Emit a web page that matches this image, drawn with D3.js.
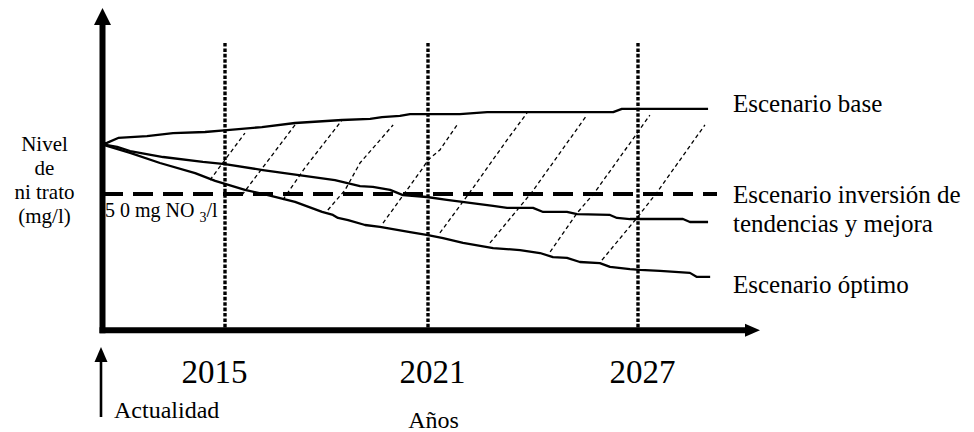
<!DOCTYPE html>
<html>
<head>
<meta charset="utf-8">
<script src="https://cdn.jsdelivr.net/npm/d3@7"></script>
<style>
  html, body { margin: 0; padding: 0; background: #fff; }
  svg { display: block; }
  text { font-family: "Liberation Serif", "Times New Roman", serif; fill: #000; }
</style>
</head>
<body>
<svg id="chart" width="974" height="432"></svg>
<script>
// ---- data (x in years, y in mg/l of nitrate) ----
const yearTicks = [2015, 2021, 2027];
const yearLabels = ["2015", "2021", "2027"];
const threshold = 50;

const baseYears = [2011.45, 2011.64, 2011.96, 2012.78, 2013.52, 2014.43, 2015.06, 2016.09, 2017.07, 2018.46, 2019.29, 2019.64, 2020.17, 2020.47, 2021.91, 2022.69, 2026.29, 2026.54, 2029.01];
const baseValues = [68.4, 68.8, 70.6, 71.3, 72.4, 72.8, 73.5, 74.6, 76.1, 77.2, 77.6, 78.3, 78.7, 79.4, 79.4, 80.1, 80.1, 81.3, 81.3];

const mejoraYears = [2011.45, 2011.93, 2012.30, 2013.24, 2014.37, 2015.00, 2016.12, 2017.13, 2018.25, 2018.99, 2019.37, 2019.88, 2020.26, 2020.97, 2021.54, 2022.20, 2022.86, 2023.26, 2024.00, 2024.29, 2024.97, 2025.26, 2026.20, 2026.40, 2026.77, 2028.29, 2028.49, 2029.01];
const mejoraValues = [68.4, 67.3, 65.8, 63.6, 61.8, 61.0, 58.8, 57.0, 55.1, 52.9, 52.6, 51.5, 49.6, 48.9, 47.8, 46.7, 45.6, 44.9, 44.9, 43.4, 43.4, 42.6, 42.3, 41.2, 40.8, 40.8, 39.7, 39.7];

const optimoYears = [2011.45, 2012.30, 2013.15, 2014.15, 2014.72, 2015.59, 2016.27, 2017.07, 2017.87, 2018.19, 2018.34, 2018.64, 2019.14, 2019.58, 2020.47, 2021.00, 2021.43, 2022.00, 2022.86, 2023.63, 2024.20, 2024.57, 2024.97, 2025.34, 2025.91, 2026.20, 2026.77, 2027.06, 2027.63, 2028.49, 2028.69, 2029.07];
const optimoValues = [68.4, 65.1, 61.4, 57.7, 54.8, 51.5, 49.6, 47.1, 43.4, 42.3, 41.2, 40.4, 38.6, 37.9, 36.0, 34.9, 33.8, 32.0, 30.1, 29.4, 28.3, 26.8, 26.5, 25.0, 24.6, 23.2, 22.4, 22.1, 21.7, 21.0, 19.5, 19.5];

// hatch lines between scenarios: [year, mg/l] pairs
const hatchLines = [
  [[2014.57, 55.1], [2015.59, 72.4]],
  [[2015.50, 49.6], [2017.07, 75.4]],
  [[2016.71, 47.8], [2017.36, 59.6], [2018.46, 77.2]],
  [[2018.04, 44.1], [2018.55, 51.5], [2018.99, 61.4], [2019.97, 75.4]],
  [[2019.67, 39.3], [2020.85, 59.6], [2021.00, 62.5], [2021.34, 66.2], [2021.83, 75.4]],
  [[2021.34, 35.7], [2022.20, 50.7], [2023.26, 69.9], [2023.83, 79.8]],
  [[2022.77, 32.0], [2023.97, 50.7], [2025.54, 79.0]],
  [[2024.49, 28.7], [2025.26, 43.0], [2025.77, 50.7], [2027.00, 72.8], [2027.34, 79.0]],
  [[2025.97, 25.7], [2026.97, 41.2], [2027.55, 50.7], [2028.92, 75.4]]
];

const yLabelLines = ["Nivel", "de", "ni trato", "(mg/l)"];
const seriesLabels = ["Escenario base", "Escenario inversión de", "tendencias y mejora", "Escenario óptimo"];

// ---- drawing ----
const svg = d3.select("#chart");
svg.append("rect").attr("width", 974).attr("height", 432).attr("fill", "#fff");

const x = d3.scaleLinear()
  .domain([2011.5, 2015, 2021, 2027, 2030.5])
  .range([102, 225, 428, 638, 760]);
const y = d3.scaleLinear().domain([0, 120]).range([330, 3.6]);

const line = d3.line().x(d => x(d[0])).y(d => y(d[1]));

// vertical dotted year lines
svg.append("g").selectAll("line").data(yearTicks).join("line")
  .attr("x1", d => x(d)).attr("x2", d => x(d))
  .attr("y1", 43).attr("y2", y(0) - 2)
  .attr("stroke", "#000").attr("stroke-width", 3.4)
  .attr("stroke-dasharray", "3.6,1.8");

// hatch lines
svg.append("g").selectAll("path").data(hatchLines).join("path")
  .attr("d", line)
  .attr("fill", "none").attr("stroke", "#000").attr("stroke-width", 1.3)
  .attr("stroke-dasharray", "4,3");

// threshold 50 mg/l dashed line
svg.append("line")
  .attr("x1", 103).attr("x2", 717)
  .attr("y1", y(threshold)).attr("y2", y(threshold))
  .attr("stroke", "#000").attr("stroke-width", 4)
  .attr("stroke-dasharray", "20,10");

// scenario lines
const series = [
  d3.zip(baseYears, baseValues),
  d3.zip(mejoraYears, mejoraValues),
  d3.zip(optimoYears, optimoValues)
];
svg.append("g").selectAll("path").data(series).join("path")
  .attr("d", line)
  .attr("fill", "none").attr("stroke", "#000").attr("stroke-width", 2.3)
  .attr("stroke-linejoin", "round");

// axes (thick arrows)
const x0 = 102.5, yAxis = 330.3;
svg.append("line").attr("x1", x0).attr("x2", x0).attr("y1", yAxis + 3).attr("y2", 22)
  .attr("stroke", "#000").attr("stroke-width", 6);
svg.append("path").attr("d", `M${x0 - 8.5},25 L${x0},8 L${x0 + 8.5},25 Z`).attr("fill", "#000");
svg.append("line").attr("x1", x0 - 3).attr("x2", 748).attr("y1", yAxis).attr("y2", yAxis)
  .attr("stroke", "#000").attr("stroke-width", 6);
svg.append("path").attr("d", `M745,${yAxis - 6.5} L760,${yAxis} L745,${yAxis + 6.5} Z`).attr("fill", "#000");

// "Actualidad" arrow
svg.append("line").attr("x1", 101).attr("x2", 101).attr("y1", 417).attr("y2", 358)
  .attr("stroke", "#000").attr("stroke-width", 2.6);
svg.append("path").attr("d", "M94.5,362 L101,347 L107.5,362 Z").attr("fill", "#000");

// year labels via axis
const xAxis = d3.axisBottom(x).tickValues(yearTicks).tickSize(0).tickFormat((d, i) => yearLabels[i]);
const gx = svg.append("g").attr("transform", `translate(0,${yAxis})`).call(xAxis);
gx.select(".domain").remove();
gx.selectAll("text")
  .attr("y", 53).attr("dy", 0)
  .attr("dx", (d, i) => i === 0 ? -11 : 4)
  .style("font-family", "'Liberation Serif', 'Times New Roman', serif")
  .style("font-size", "33px").attr("fill", "#000");

// left y label
svg.append("g").selectAll("text").data(yLabelLines).join("text")
  .attr("x", 44.5).attr("y", (d, i) => 151 + i * 24)
  .attr("text-anchor", "middle").style("font-size", "21px")
  .text(d => d);

// threshold label
const tl = svg.append("text").attr("x", 105).attr("y", 217).style("font-size", "20px");
tl.append("tspan").text("5 0 mg NO ");
tl.append("tspan").attr("dy", 5).style("font-size", "14px").text("3");
tl.append("tspan").attr("dy", -5).text("/l");

// series labels
const labelY = [112, 203, 232, 293];
svg.append("g").selectAll("text").data(seriesLabels).join("text")
  .attr("x", 733).attr("y", (d, i) => labelY[i])
  .style("font-size", "25px").text(d => d);

// bottom labels
svg.append("text").attr("x", 114).attr("y", 418).style("font-size", "24px").text("Actualidad");
svg.append("text").attr("x", 433.5).attr("y", 428).attr("text-anchor", "middle").style("font-size", "24px").text("Años");
</script>
</body>
</html>
